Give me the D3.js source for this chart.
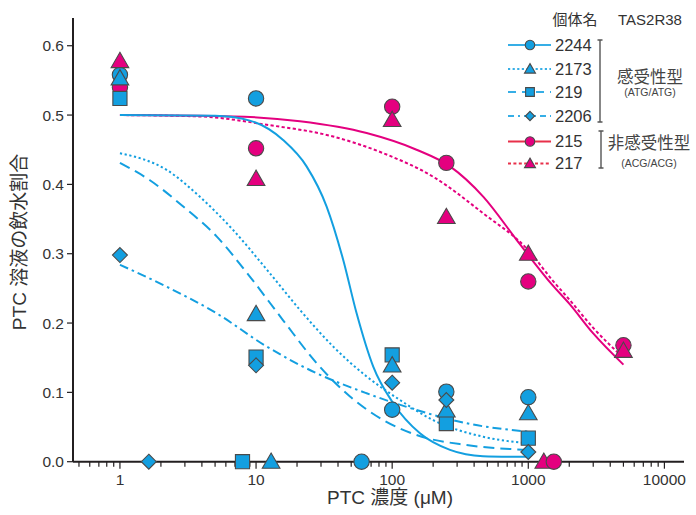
<!DOCTYPE html>
<html>
<head>
<meta charset="utf-8">
<script src="https://cdn.jsdelivr.net/npm/d3@7"></script>
<style>
  html, body { margin: 0; padding: 0; background: #fff; }
  svg { display: block; font-family: "Liberation Sans", Arial, "Noto Sans CJK JP", sans-serif; }
</style>
</head>
<body>
<svg id="chart" width="696" height="515"></svg>
<script>
// ---------------- DATA ----------------
const concentrations = [1, 10, 100, 250, 1000, 5000];
const seriesNames = ["2244", "2173", "219", "2206", "215", "217"];
const seriesGroup = ["s", "s", "s", "s", "n", "n"]; // s = sensitive (blue), n = non-sensitive (magenta)
const seriesShapes = ["circle", "triangle", "square", "diamond", "circle", "triangle"];

// measured points (null = not measured)
const val2244 = [0.558, 0.524, 0.075, 0.101, 0.093, null];
const val2173 = [0.553, 0.213, 0.139, 0.074, 0.070, null];
const val219  = [0.524, 0.151, 0.154, 0.055, 0.034, null];
const val2206 = [0.298, 0.139, 0.114, 0.089, 0.014, null];
const val215  = [0.540, 0.452, 0.512, 0.431, 0.260, 0.168];
const val217  = [0.578, 0.408, 0.493, 0.353, 0.300, 0.160];

// IC50 markers sitting on the x axis (y = 0)
const ic50Values = [59.6, 12.9, 7.95, 1.63, 1540, 1300];

// fitted curves, sampled from the figure: [concentration, fraction]
const curve2244 = [[1,0.500],[5,0.499],[9,0.492],[15.8,0.464],[23.5,0.426],[33,0.368],[43.7,0.291],[54.8,0.214],[72.6,0.137],[102,0.084],[160,0.041],[266,0.017],[465,0.008],[1000,0.007]];
const curve2173 = [[1,0.445],[2.2,0.421],[3.87,0.382],[6.8,0.334],[12,0.277],[21,0.219],[36.9,0.166],[64.9,0.123],[114,0.089],[200,0.060],[467,0.036],[1000,0.0265]];
const curve219  = [[1,0.431],[1.66,0.406],[2.92,0.368],[5.13,0.325],[9.0,0.267],[15.8,0.204],[27.9,0.142],[49,0.094],[86,0.060],[151,0.0385],[352,0.024],[1000,0.017]];
const curve2206 = [[1,0.284],[2.2,0.2525],[5.13,0.214],[12,0.166],[27.9,0.1275],[64.9,0.0987],[151,0.0746],[352,0.0554],[1000,0.0433]];
const curve215  = [[1,0.500],[6.8,0.498],[21,0.491],[64.9,0.474],[151,0.450],[266,0.426],[468,0.382],[820,0.320],[1000,0.298],[1500,0.255],[2000,0.228],[3000,0.185],[5000,0.140]];
const curve217  = [[1,0.500],[3.87,0.498],[12,0.486],[36.9,0.469],[86,0.445],[200,0.411],[468,0.358],[1000,0.305],[1500,0.262],[2000,0.234],[3000,0.193],[5000,0.150]];

const yTicks = [0, 0.1, 0.2, 0.3, 0.4, 0.5, 0.6];
const xMajorTicks = [1, 10, 100, 1000, 10000];

// ---------------- STYLES ----------------
const blue = "#139fe0";
const magenta = "#e4007f";
const legendBlue = "#36aee6";
const legendRed = "#e8304a";
const markerStroke = "#4a4a4a";
const textColor = "#333";

const allValues = [val2244, val2173, val219, val2206, val215, val217];
const allCurves = [curve2244, curve2173, curve219, curve2206, curve215, curve217];
const dashes = [null, "2.2,2.6", "11,6", "9,4,2.5,4", null, "3.2,2.4"];
const legendDashes = [null, "2.2,2.4", "8,6", "6,4,2,4", null, "3,2.4"];

// ---------------- SCALES ----------------
const svg = d3.select("#chart");
const x = d3.scaleLog().domain([0.452, 13930]).range([73, 684]);
const y = d3.scaleLinear().domain([0, 0.64]).range([461.7, 18]);

// ---------------- AXES ----------------
const minorTicks = [];
[0.1, 1, 10, 100, 1000].forEach(d => {
  for (let k = 2; k <= 9; k++) {
    const v = d * k;
    if (v > 0.452 && v < 13930) minorTicks.push(v);
  }
});

const xAxis = svg.append("g").attr("transform", `translate(0,${y(0)})`);
xAxis.append("line").attr("x1", 73).attr("x2", 684).attr("y1", 0).attr("y2", 0)
  .attr("stroke", "#231f20").attr("stroke-width", 2);
xAxis.selectAll(".minor").data(minorTicks).enter().append("line")
  .attr("x1", d => x(d)).attr("x2", d => x(d)).attr("y1", 0).attr("y2", 5)
  .attr("stroke", "#231f20").attr("stroke-width", 1.2);
xAxis.selectAll(".major").data(xMajorTicks).enter().append("line")
  .attr("x1", d => x(d)).attr("x2", d => x(d)).attr("y1", 0).attr("y2", 7)
  .attr("stroke", "#231f20").attr("stroke-width", 1.2);
xAxis.selectAll(".xl").data(xMajorTicks).enter().append("text")
  .attr("x", d => x(d)).attr("y", 23)
  .attr("text-anchor", "middle").attr("font-size", 15.5).attr("fill", textColor)
  .text(d => d3.format("d")(d));

const yAxis = svg.append("g").attr("transform", `translate(73,0)`);
yAxis.append("line").attr("x1", 0).attr("x2", 0).attr("y1", 18).attr("y2", y(0))
  .attr("stroke", "#231f20").attr("stroke-width", 2);
yAxis.selectAll(".yt").data(yTicks).enter().append("line")
  .attr("x1", -6).attr("x2", 0).attr("y1", d => y(d)).attr("y2", d => y(d))
  .attr("stroke", "#231f20").attr("stroke-width", 1.2);
yAxis.selectAll(".yl").data(yTicks).enter().append("text")
  .attr("x", -9).attr("y", d => y(d)).attr("dy", "0.36em")
  .attr("text-anchor", "end").attr("font-size", 15.5).attr("fill", textColor)
  .text(d => d3.format(".1f")(d));

// axis titles
svg.append("text").attr("x", 390).attr("y", 504).attr("text-anchor", "middle")
  .attr("font-size", 19).attr("fill", textColor).text("PTC 濃度 (μM)");
svg.append("text").attr("transform", "translate(26,242) rotate(-90)")
  .attr("text-anchor", "middle").attr("font-size", 19).attr("fill", textColor)
  .text("PTC 溶液の飲水割合");

// ---------------- CURVES ----------------
const line = d3.line().x(d => x(d[0])).y(d => y(d[1])).curve(d3.curveMonotoneX);
const curveOrder = [4, 5, 3, 2, 1, 0];
curveOrder.forEach(i => {
  svg.append("path").datum(allCurves[i])
    .attr("d", line).attr("fill", "none")
    .attr("stroke", seriesGroup[i] === "s" ? blue : magenta)
    .attr("stroke-width", 2)
    .attr("stroke-dasharray", dashes[i]);
});

// ---------------- MARKERS ----------------
// square-rotated diamond (equal width and height)
const symbolRhombus = {
  draw(context, size) {
    const r = Math.sqrt(size / 2);
    context.moveTo(0, -r);
    context.lineTo(r, 0);
    context.lineTo(0, r);
    context.lineTo(-r, 0);
    context.closePath();
  }
};
const symbolTypes = {
  circle: d3.symbolCircle, triangle: d3.symbolTriangle,
  square: d3.symbolSquare, diamond: symbolRhombus
};
const symbolSizes = { circle: 185, triangle: 135, square: 200, diamond: 112 };
function drawMarker(g, shape, cx, cy, fill, scale) {
  const s = scale || 1;
  const yOff = shape === "triangle" ? 1.5 * s : 0;
  g.append("path")
    .attr("d", d3.symbol().type(symbolTypes[shape]).size(symbolSizes[shape] * s * s)())
    .attr("transform", `translate(${cx},${cy + yOff})`)
    .attr("fill", fill).attr("stroke", markerStroke).attr("stroke-width", 1.1);
}

const markerG = svg.append("g");
const markerOrder = [4, 2, 0, 1, 3, 5];
markerOrder.forEach(i => {
  const fill = seriesGroup[i] === "s" ? blue : magenta;
  allValues[i].forEach((v, j) => {
    if (v === null) return;
    drawMarker(markerG, seriesShapes[i], x(concentrations[j]), y(v), fill);
  });
});
// IC50 markers on the axis
[3, 2, 1, 0, 5, 4].forEach(i => {
  drawMarker(markerG, seriesShapes[i], x(ic50Values[i]), y(0),
    seriesGroup[i] === "s" ? blue : magenta);
});

// ---------------- LEGEND ----------------
const lg = svg.append("g");
lg.append("text").attr("x", 575).attr("y", 20).attr("dy", "0.35em")
  .attr("text-anchor", "middle").attr("font-size", 15).attr("fill", textColor).text("個体名");
lg.append("text").attr("x", 650).attr("y", 20).attr("dy", "0.35em")
  .attr("text-anchor", "middle").attr("font-size", 15).attr("fill", textColor).text("TAS2R38");

const legendY = [45, 69, 92, 116, 141.5, 163.5];
seriesNames.forEach((name, i) => {
  const yy = legendY[i];
  const s = seriesGroup[i] === "s";
  lg.append("line").attr("x1", 508).attr("x2", 551).attr("y1", yy).attr("y2", yy)
    .attr("stroke", s ? legendBlue : legendRed).attr("stroke-width", 2)
    .attr("stroke-dasharray", legendDashes[i]);
  drawMarker(lg, seriesShapes[i], 530, yy, s ? blue : magenta, 0.62);
  lg.append("text").attr("x", 555).attr("y", yy).attr("dy", "0.36em")
    .attr("font-size", 16.5).attr("fill", textColor).text(name);
});

function bracket(x0, y0, y1) {
  lg.append("path")
    .attr("d", `M${x0 - 2.5},${y0} H${x0 + 2.5} M${x0},${y0} V${y1} M${x0 - 2.5},${y1} H${x0 + 2.5}`)
    .attr("stroke", "#555").attr("stroke-width", 1.4).attr("fill", "none");
}
bracket(600, 40, 122);
bracket(601, 131, 168);

lg.append("text").attr("x", 650).attr("y", 77).attr("dy", "0.35em")
  .attr("text-anchor", "middle").attr("font-size", 16.5).attr("fill", "#444").text("感受性型");
lg.append("text").attr("x", 650).attr("y", 92.5).attr("dy", "0.35em")
  .attr("text-anchor", "middle").attr("font-size", 10.5).attr("fill", "#444").text("(ATG/ATG)");
lg.append("text").attr("x", 649).attr("y", 143).attr("dy", "0.35em")
  .attr("text-anchor", "middle").attr("font-size", 16.5).attr("fill", "#444").text("非感受性型");
lg.append("text").attr("x", 649).attr("y", 163.5).attr("dy", "0.35em")
  .attr("text-anchor", "middle").attr("font-size", 10.5).attr("fill", "#444").text("(ACG/ACG)");
</script>
</body>
</html>
